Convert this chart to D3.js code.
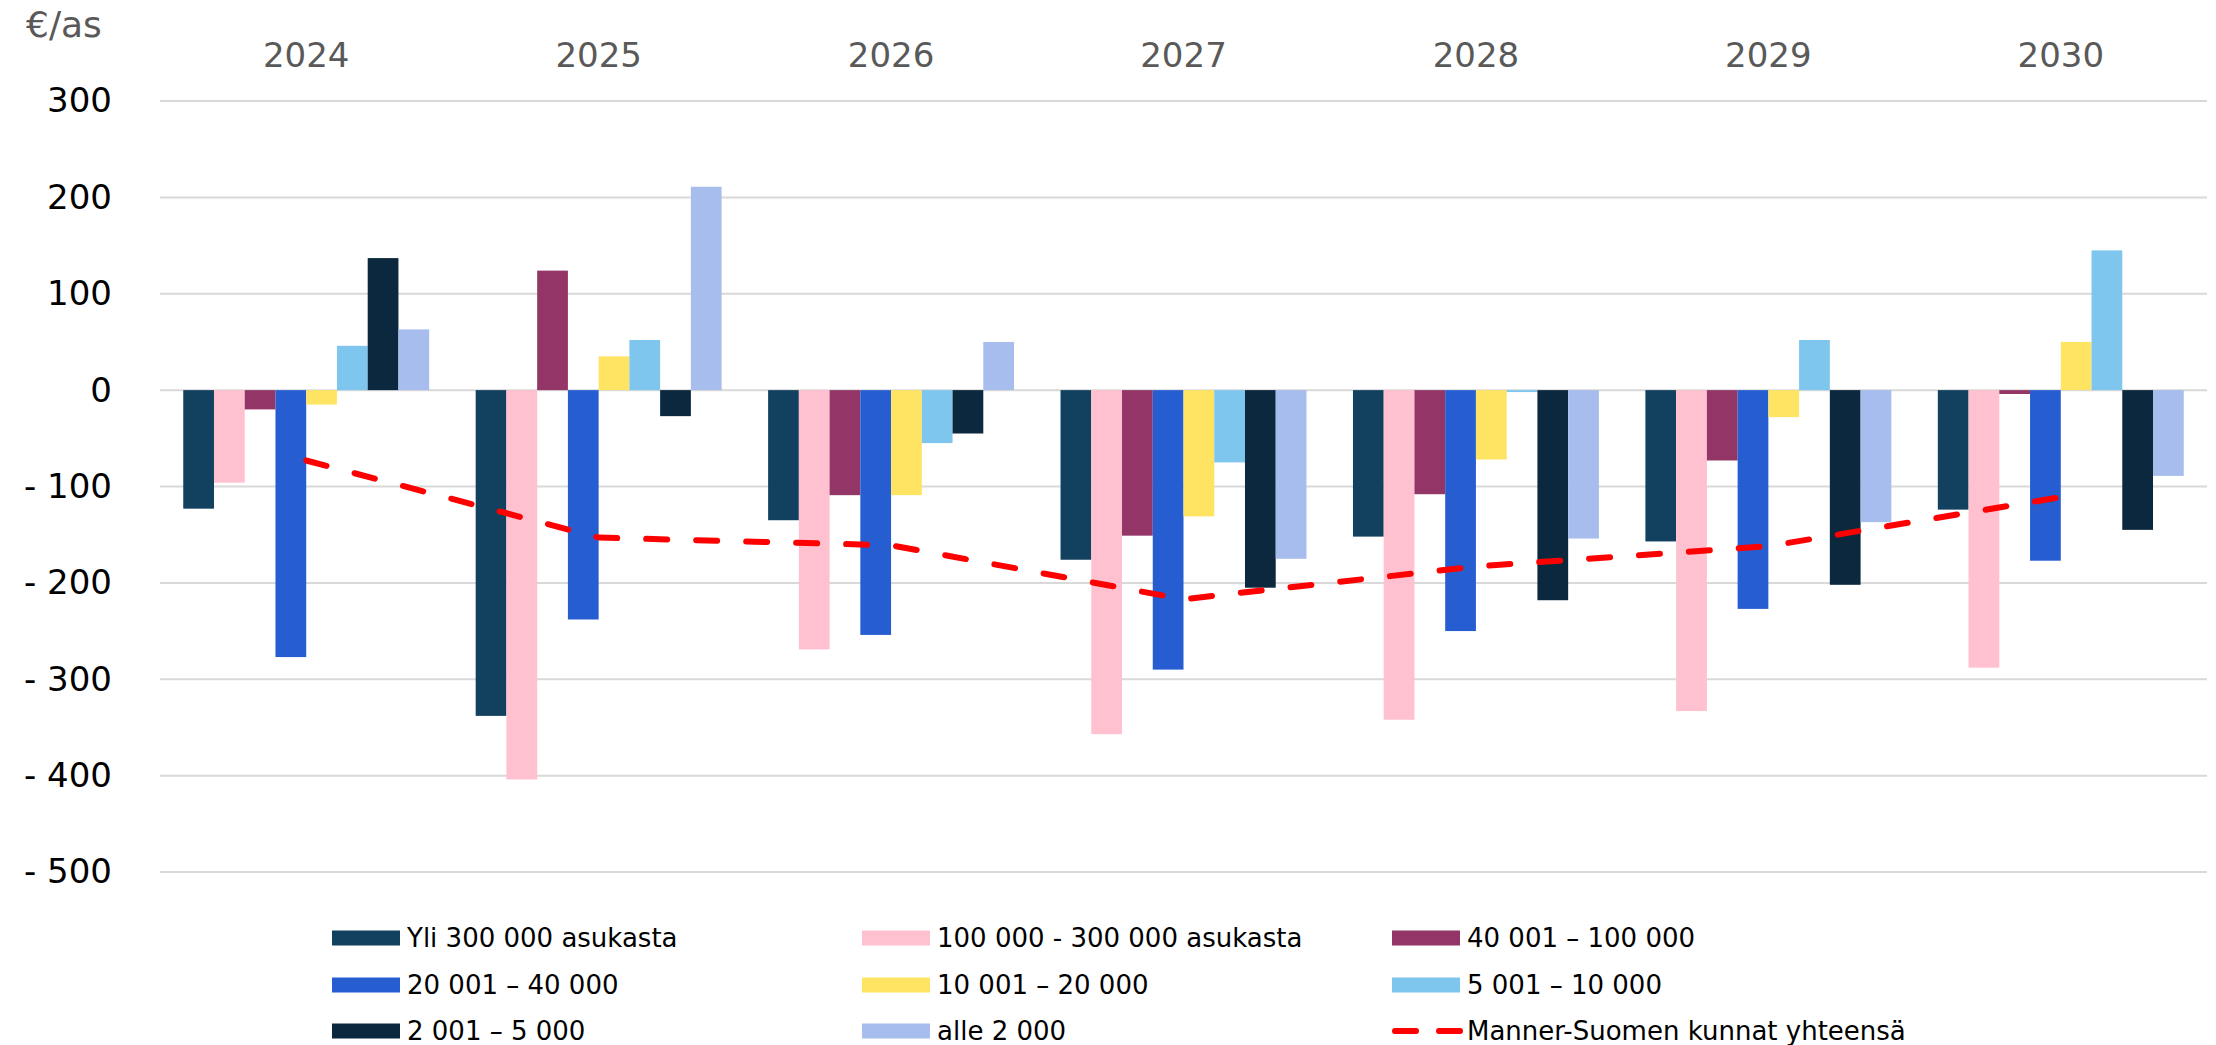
<!DOCTYPE html>
<html>
<head>
<meta charset="utf-8">
<script src="https://cdn.jsdelivr.net/npm/d3@7"></script>
<style>
  body { margin: 0; background: #fff; }
  text { font-family: "DejaVu Sans", sans-serif; }
</style>
</head>
<body>
<div class="chart"></div>
<script>
let years = ["2024", "2025", "2026", "2027", "2028", "2029", "2030"];
let groups = ["Yli 300 000 asukasta", "100 000 - 300 000 asukasta", "40 001 – 100 000",
              "20 001 – 40 000", "10 001 – 20 000", "5 001 – 10 000",
              "2 001 – 5 000", "alle 2 000"];
let groupColors = ["#12415f", "#ffc0cf", "#933566", "#265ed2", "#ffe463", "#7ec6ee", "#0b283e", "#a6bdee"];

// one array per size class, values per year 2024..2030
let yli300 = [-123, -338, -135, -176, -152, -157, -124];
let v100_300 = [-96, -404, -269, -357, -342, -333, -288];
let v40_100 = [-20, 124, -109, -151, -108, -73, -4];
let v20_40 = [-277, -238, -254, -290, -250, -227, -177];
let v10_20 = [-15, 35, -109, -131, -72, -28, 50];
let v5_10 = [46, 52, -55, -75, -2, 52, 145];
let v2_5 = [137, -27, -45, -205, -218, -202, -145];
let alle2 = [63, 211, 50, -175, -154, -137, -89];
let allSeries = [yli300, v100_300, v40_100, v20_40, v10_20, v5_10, v2_5, alle2];

let totalLabel = "Manner-Suomen kunnat yhteensä";
let total = [-73, -153, -161, -217, -183, -162, -111];

let yTicks = [300, 200, 100, 0, -100, -200, -300, -400, -500];

let w = 2216;
let h = 1045;
let plotLeft = 160;
let plotRight = 2207;
let plotTop = 101;
let plotBottom = 872;

let viz = d3.select(".chart")
          .append("svg")
          .attr("width", w)
          .attr("height", h)
          .style("background-color", "#ffffff")
;

let xScale = d3.scaleBand().domain(years).range([plotLeft, plotRight]).paddingInner(0.159).paddingOuter(0.0795);
let xSub = d3.scaleBand().domain(groups).range([0, xScale.bandwidth()]);
let yScale = d3.scaleLinear().domain([-500, 300]).range([plotBottom, plotTop]);

// gridlines
viz.append("g").selectAll("line").data(yTicks).enter()
    .append("line")
    .attr("x1", plotLeft)
    .attr("x2", plotRight)
    .attr("y1", d => yScale(d))
    .attr("y2", d => yScale(d))
    .attr("stroke", "#d9d9d9")
    .attr("stroke-width", 2)
;

// y axis labels
let yAxis = d3.axisLeft(yScale).tickValues(yTicks).tickSize(0).tickPadding(0)
              .tickFormat(d => d < 0 ? "- " + Math.abs(d) : d);
let yAxisGroup = viz.append("g").attr("transform", "translate(112,0)");
yAxisGroup.call(yAxis).call(g => g.select(".domain").remove());
yAxisGroup.selectAll("text")
          .attr("font-size", "34px")
          .attr("fill", "#000")
          .attr("font-family", "DejaVu Sans")
;

// year labels on top
let xAxis = d3.axisTop(xScale).tickSize(0).tickPadding(0);
let xAxisGroup = viz.append("g").attr("transform", "translate(0,67)");
xAxisGroup.call(xAxis).call(g => g.select(".domain").remove());
xAxisGroup.selectAll("text")
          .attr("font-size", "34px")
          .attr("fill", "#595959")
          .attr("font-family", "DejaVu Sans")
          .attr("dy", 0)
;

viz.append("text")
    .text("€/as")
    .attr("x", 26)
    .attr("y", 37)
    .attr("font-size", "36px")
    .attr("fill", "#595959")
;

// bars
let barData = [];
years.forEach((yr, i) => {
  groups.forEach((g, k) => {
    barData.push({year: yr, group: g, value: allSeries[k][i], color: groupColors[k]});
  });
});

viz.append("g").selectAll("rect").data(barData).enter()
    .append("rect")
    .attr("x", d => xScale(d.year) + xSub(d.group))
    .attr("y", d => yScale(Math.max(0, d.value)))
    .attr("width", xSub.bandwidth())
    .attr("height", d => Math.abs(yScale(d.value) - yScale(0)))
    .attr("fill", d => d.color)
;

// total line
let line = d3.line()
            .x((d, i) => xScale(years[i]) + xScale.bandwidth() / 2)
            .y(d => yScale(d));
viz.append("path")
    .datum(total)
    .attr("d", line)
    .attr("fill", "none")
    .attr("stroke", "#ff0000")
    .attr("stroke-width", 6)
    .attr("stroke-linecap", "round")
    .attr("stroke-dasharray", "21,29")
;

// legend
let legendItems = groups.map((g, k) => ({label: g, color: groupColors[k], type: "bar"}));
legendItems.push({label: totalLabel, color: "#ff0000", type: "line"});
let legendX = [332, 862, 1392];
let legendY = [938, 985, 1031];

let legend = viz.append("g").attr("class", "legend");
legendItems.forEach((item, i) => {
  let lx = legendX[i % 3];
  let ly = legendY[Math.floor(i / 3)];
  if (item.type == "bar") {
    legend.append("rect")
          .attr("x", lx)
          .attr("y", ly - 7.5)
          .attr("width", 68)
          .attr("height", 15)
          .attr("fill", item.color)
    ;
  } else {
    legend.append("line")
          .attr("x1", lx + 3)
          .attr("x2", lx + 68)
          .attr("y1", ly)
          .attr("y2", ly)
          .attr("stroke", item.color)
          .attr("stroke-width", 6)
          .attr("stroke-linecap", "round")
          .attr("stroke-dasharray", "21,23")
    ;
  }
  legend.append("text")
        .text(item.label)
        .attr("x", lx + 75)
        .attr("y", ly + 9)
        .attr("font-size", "26px")
        .attr("fill", "#000")
  ;
});
</script>
</body>
</html>
